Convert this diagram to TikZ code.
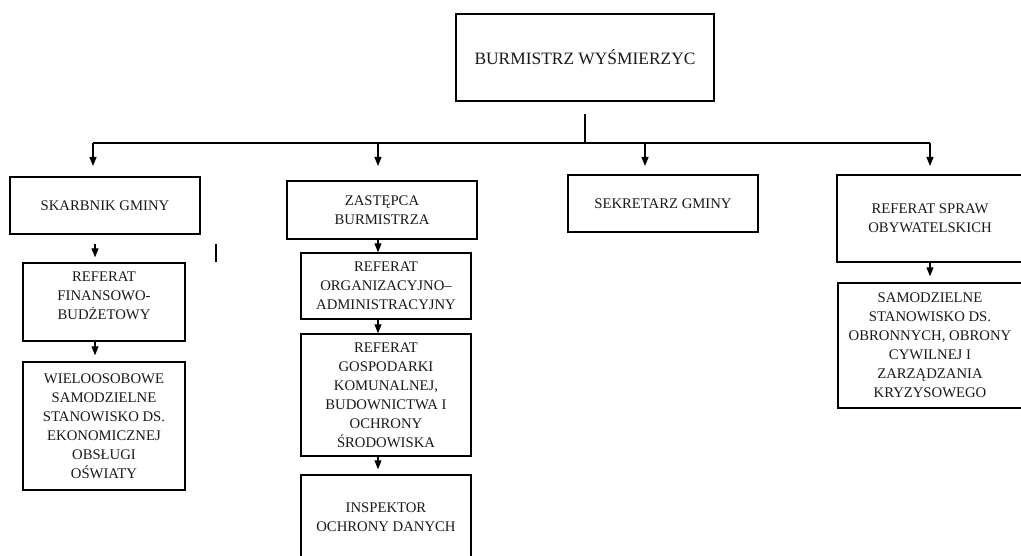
\documentclass[tikz,border=0pt]{standalone}
\usepackage{fontspec}
\setmainfont{Liberation Serif}
\usetikzlibrary{arrows.meta}
\tikzset{
  box/.style={draw=black, line width=1.4pt, inner sep=0pt, align=center,
    font=\fontsize{14.7}{19}\selectfont, text=black!90},
  conn/.style={line width=1.2pt, draw=black},
  arr/.style={conn, -{Triangle[width=7pt,length=9pt]}},
}
\begin{document}
\begin{tikzpicture}[x=1pt,y=-1pt]
\clip (0,0) rectangle (1021,556);
\fill[white] (0,0) rectangle (1021,556);

\node[box, minimum width=258pt, minimum height=87pt, font=\fontsize{17.4}{21}\selectfont] (burm) at (585,57.5) {BURMISTRZ WYŚMIERZYC};

\node[box, minimum width=190pt, minimum height=57pt] (skarb) at (105,205.5) {SKARBNIK GMINY};
\node[box, minimum width=162pt, minimum height=78pt] (fin) at (104,302) {REFERAT\\FINANSOWO-\\BUDŻETOWY\\[-7pt]\mbox{}};
\node[box, minimum width=162pt, minimum height=128pt] (wielo) at (104,426) {WIELOOSOBOWE\\SAMODZIELNE\\STANOWISKO DS.\\EKONOMICZNEJ\\OBSŁUGI\\OŚWIATY};

\node[box, minimum width=190pt, minimum height=58pt] (zast) at (382,210) {ZASTĘPCA\\BURMISTRZA};
\node[box, minimum width=170pt, minimum height=66pt] (org) at (386,286) {REFERAT\\ORGANIZACYJNO–\\ADMINISTRACYJNY};
\node[box, minimum width=170pt, minimum height=122pt] (gosp) at (386,395) {REFERAT\\GOSPODARKI\\KOMUNALNEJ,\\BUDOWNICTWA I\\OCHRONY\\ŚRODOWISKA};
\node[box, minimum width=170pt, minimum height=85pt] (insp) at (386,517.5) {INSPEKTOR\\OCHRONY DANYCH};

\node[box, minimum width=190pt, minimum height=57pt] (sekr) at (663,203.5) {SEKRETARZ GMINY};

\node[box, minimum width=186pt, minimum height=87pt] (refsp) at (930,218.5) {REFERAT SPRAW\\OBYWATELSKICH};
\node[box, minimum width=184pt, minimum height=125pt] (samo) at (930,345.5) {SAMODZIELNE\\STANOWISKO DS.\\OBRONNYCH, OBRONY\\CYWILNEJ I\\ZARZĄDZANIA\\KRYZYSOWEGO};

% top connectors
\coordinate (bstem) at (585,114);
\coordinate (bj) at (585,143);
\coordinate (hl) at (93,143);
\coordinate (hr) at (930,143);
\coordinate (j1) at (93,143);
\coordinate (j2) at (378,143);
\coordinate (j3) at (645,143);
\coordinate (j4) at (930,143);
\draw[conn] (bstem) -- (bj);
\draw[conn] (hl) -- (hr);
\draw[arr] (j1) -- (93,166);
\draw[arr] (j2) -- (378,166);
\draw[arr] (j3) -- (645,166);
\draw[arr] (j4) -- (930,166);

% column arrows
\draw[arr, shorten <=9pt, shorten >=5pt] (skarb.south -| 95,0) -- (fin.north -| 95,0);
\draw[arr, shorten >=6pt] (fin.south -| 95,0) -- (wielo.north -| 95,0);
\draw[arr] (zast.south -| 378,0) -- (org.north -| 378,0);
\draw[arr] (org.south -| 378,0) -- (gosp.north -| 378,0);
\draw[arr, shorten >=5pt] (gosp.south -| 378,0) -- (insp.north -| 378,0);
\draw[arr, shorten >=6pt] (refsp.south) -- (samo.north);

% stray mark
\coordinate (s1) at (216,244);
\coordinate (s2) at (216,262);
\draw[conn] (s1) -- (s2);
\end{tikzpicture}
\end{document}
